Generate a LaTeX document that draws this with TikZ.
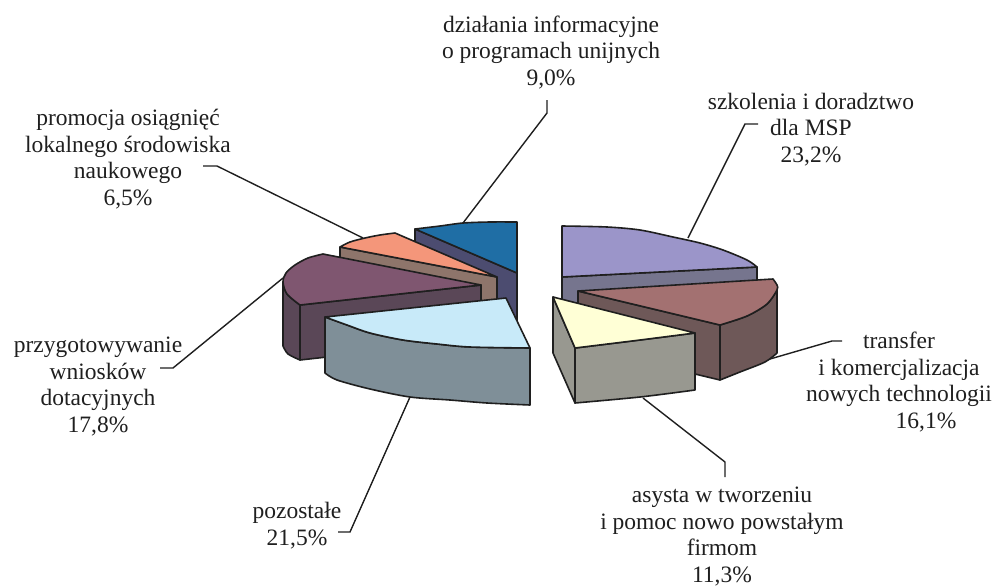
\documentclass[tikz,border=0pt]{standalone}
\usepackage{fontspec}
\setmainfont{Liberation Serif}
\usetikzlibrary{positioning}

\begin{document}
\begin{tikzpicture}[x=1pt, y=-1pt,
  lbl/.style={font=\fontsize{23.5}{26.5}\selectfont, align=center, inner sep=0pt, anchor=base, text=black!88},
  face/.style={draw=black!88, line width=1.6pt, line join=round},
  lead/.style={draw=black!88, line width=1.4pt, line join=miter}]
  \useasboundingbox (0,0) rectangle (997,587);
  % dzialania informacyjne (tyl)
  \path[face, fill=blue!20!black!70!white] (415,229) -- (517,273) -- (517,328) -- (415,284) -- cycle;
  \path[face, fill={rgb,255:red,31;green,110;blue,165}] (517,273) -- (517,222)
    -- plot[smooth] coordinates {(517,222) (490,222) (463,223) (440,226) (415,229)} -- cycle;
  % promocja
  \path[face, fill={rgb,255:red,142;green,117;blue,107}] (340,247) -- (497,277) -- (497,332) -- (340,302) -- cycle;
  \path[face, fill={rgb,255:red,244;green,150;blue,122}] (497,277) -- (395,233)
    -- plot[smooth] coordinates {(395,233) (380,235) (365,238) (350,242) (340,247)} -- cycle;
  % przygotowywanie
  \path[face, fill={rgb,255:red,90;green,71;blue,87}] (283,282)
    -- plot[smooth] coordinates {(283,282) (287,294) (300,305)} -- (300,360)
    -- plot[smooth] coordinates {(300,360) (288,354) (283,346)} -- cycle;
  \path[face, fill={rgb,255:red,90;green,71;blue,87}] (300,305) -- (481,285) -- (481,340) -- (300,360) -- cycle;
  \path[face, fill={rgb,255:red,127;green,86;blue,112}] (481,285) -- (323,254)
    -- plot[smooth] coordinates {(323,254) (308,258) (295,265) (286,273) (283,282) (287,294) (300,305)} -- cycle;
  % pozostale
  \path[face, fill={rgb,255:red,127;green,143;blue,152}] (325,317)
    -- plot[smooth] coordinates {(325,317) (347,325) (370,333) (403,340) (437,344) (470,347) (530,348)}
    -- (530,405)
    -- plot[smooth] coordinates {(530,405) (487,403) (450,400) (410,397) (370,389) (337,380) (325,373)} -- cycle;
  \path[face, fill={rgb,255:red,200;green,234;blue,249}] (506,298) -- (530,348)
    -- plot[smooth] coordinates {(530,348) (470,347) (437,344) (403,340) (370,333) (347,325) (325,317)} -- cycle;
  % szkolenia
  \path[face, fill={rgb,255:red,118;green,117;blue,142}] (562,277) -- (757,267) -- (757,322) -- (562,332) -- cycle;
  \path[face, fill={rgb,255:red,155;green,149;blue,201}] (562,277) -- (562,226)
    -- plot[smooth] coordinates {(562,226) (607,227) (640,230) (673,237) (700,243) (723,250) (747,260) (757,267)} -- cycle;
  % transfer
  \path[face, fill={rgb,255:red,110;green,88;blue,88}] (578,291) -- (720,325) -- (720,380) -- (578,346) -- cycle;
  \path[face, fill={rgb,255:red,110;green,88;blue,88}] (720,325)
    -- plot[smooth] coordinates {(720,325) (747,316) (767,304) (777,290)} -- (777,353)
    -- plot[smooth] coordinates {(777,353) (765,362) (740,372) (720,380)} -- cycle;
  \path[face, fill={rgb,255:red,163;green,113;blue,113}] (578,291) -- (773,279)
    -- plot[smooth] coordinates {(773,279) (777,285) (777,290) (767,304) (747,316) (720,325)} -- cycle;
  % asysta
  \path[face, fill={rgb,255:red,152;green,152;blue,144}] (553,297) -- (575,348) -- (575,403) -- (553,353) -- cycle;
  \path[face, fill={rgb,255:red,152;green,152;blue,144}] (575,348)
    -- plot[smooth] coordinates {(575,348) (640,340) (695,333)} -- (695,390)
    -- plot[smooth] coordinates {(695,390) (640,397) (575,403)} -- cycle;
  \path[face, fill={rgb,255:red,255;green,255;blue,214}] (553,297) -- (695,333)
    -- plot[smooth] coordinates {(695,333) (640,340) (575,348)} -- cycle;
  % opisy (anchor=base -> ostatnia linia)
  \node[lbl] (dzi) at (551,85) {działania informacyjne\\o programach unijnych\\9,0\%};
  \node[lbl] (szk) at (811,162) {szkolenia i doradztwo\\dla MSP\\23,2\%};
  \node[lbl] (pro) at (128,205) {promocja osiągnięć\\lokalnego środowiska\\naukowego\\6,5\%};
  \node[lbl] (tra) at (899,428) {transfer\\i komercjalizacja\\nowych technologii\\\hspace*{54pt}16,1\%};
  \node[lbl] (prz) at (98,432) {przygotowywanie\\wniosków\\dotacyjnych\\17,8\%};
  \node[lbl] (poz) at (297,545) {pozostałe\\21,5\%};
  \node[lbl] (asy) at (722,582) {asysta w tworzeniu\\i pomoc nowo powstałym\\firmom\\11,3\%};
  % linie odniesienia
  \coordinate (dziA) at (547,100); \coordinate (dziB) at (463,223);
  \coordinate (szkA) at (758,124); \coordinate (szkB) at (688,238);
  \coordinate (proA) at (203,166); \coordinate (proB) at (363,238);
  \coordinate (traA) at (842,341); \coordinate (traB) at (770,359);
  \coordinate (przA) at (160,368); \coordinate (przB) at (283,278);
  \coordinate (pozA) at (338,532); \coordinate (pozB) at (410,397);
  \coordinate (asyA) at (725,477); \coordinate (asyB) at (643,398);
  \draw[lead] (dziA) -- ++(0,13) -- (dziB);
  \draw[lead] (szkA) -- ++(-13,0) -- (szkB);
  \draw[lead] (proA) -- ++(14,0) -- (proB);
  \draw[lead] (traA) -- ++(-10,0) -- (traB);
  \draw[lead] (przA) -- ++(13,0) -- (przB);
  \draw[lead] (pozA) -- ++(12,0) -- (pozB);
  \draw[lead] (asyA) -- ++(0,-15) -- (asyB);
\end{tikzpicture}
\end{document}
